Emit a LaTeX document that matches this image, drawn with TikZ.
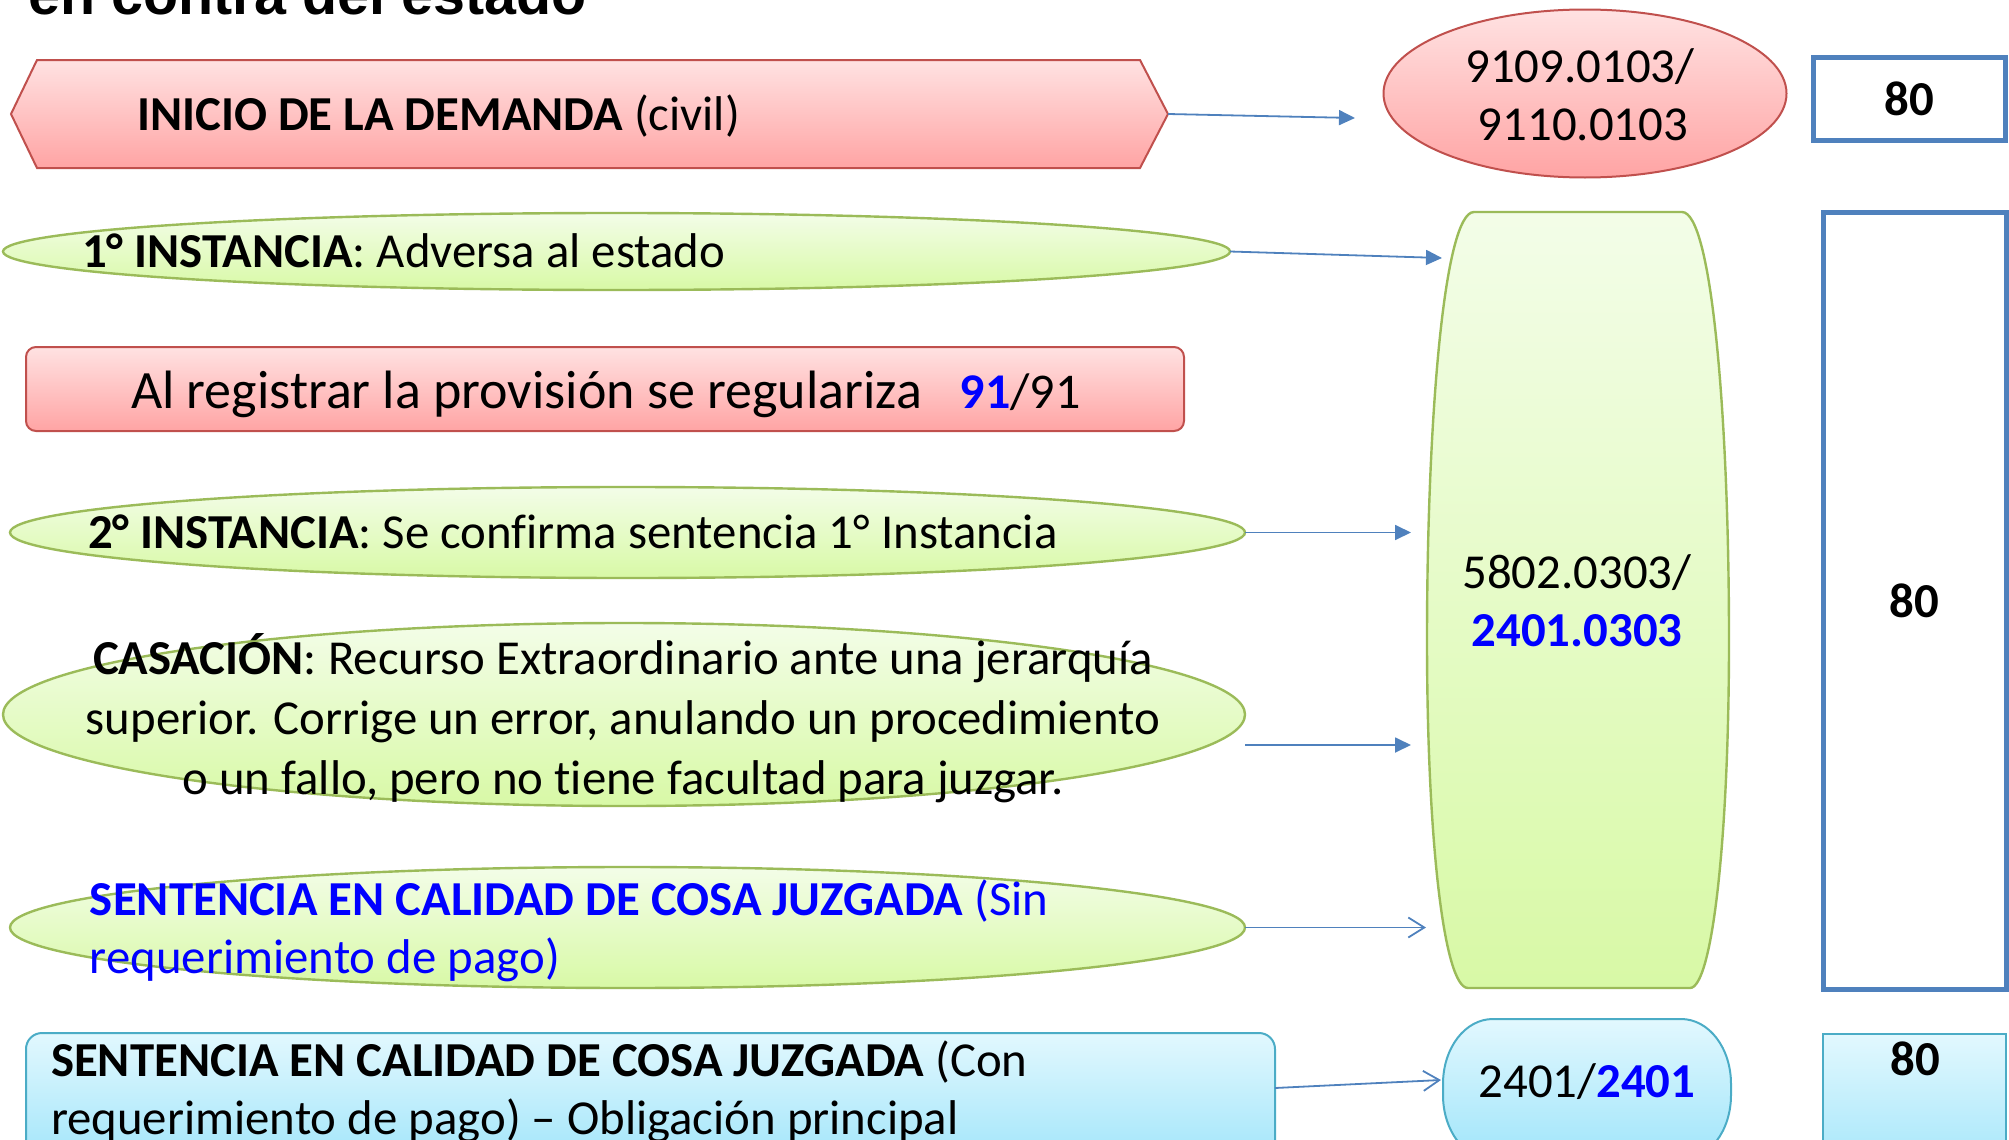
\documentclass[tikz,border=0pt]{standalone}
\usepackage{fontspec}
\setmainfont[Ligatures=NoCommon]{Carlito}
\newfontfamily\titlefont{Liberation Sans}
\usetikzlibrary{shapes.geometric,arrows.meta}
\definecolor{redtop}{RGB}{255,226,226}
\definecolor{redbot}{RGB}{255,164,164}
\definecolor{redline}{RGB}{192,80,77}
\definecolor{grntop}{RGB}{243,253,232}
\definecolor{grnbot}{RGB}{216,249,166}
\definecolor{grnline}{RGB}{155,187,89}
\definecolor{blutop}{RGB}{226,248,254}
\definecolor{blubot}{RGB}{160,229,250}
\definecolor{bluline}{RGB}{75,172,198}
\definecolor{arrblue}{RGB}{79,129,189}
\definecolor{txtblue}{RGB}{0,0,255}
\begin{document}
\begin{tikzpicture}[x=0.5pt,y=-0.5pt,
  redfill/.style={top color=redtop,bottom color=redbot,draw=redline,line width=1pt},
  grnfill/.style={top color=grntop,bottom color=grnbot,draw=grnline,line width=1.2pt},
  blufill/.style={top color=blutop,bottom color=blubot,draw=bluline,line width=1pt},
  txt/.style={inner sep=0pt,outer sep=0pt,font=\fontsize{24.4}{28}\selectfont},
  gell/.style={ellipse,grnfill,inner sep=0pt,outer sep=0pt},
  numbox/.style={draw=arrblue,line width=2.5pt,fill=white,inner sep=0pt,outer sep=0pt,font=\fontsize{24.4}{28}\selectfont\bfseries},
  arrf/.style={draw=arrblue,line width=0.9pt,-{Triangle[length=8pt,width=7.5pt]}},
  arro/.style={draw=arrblue,line width=0.9pt,-{Straight Barb[length=8pt,width=10pt]}},
]
\useasboundingbox (0,0) rectangle (2009,1140);

% title
\node[inner sep=0pt,anchor=base west,font=\titlefont\fontsize{28.7}{30}\selectfont\bfseries] (title) at (28,15) {en contra del estado};

% hexagon
\shade[redfill] (11,114) -- (37,60) -- (1140,60) -- (1168,114) -- (1140,168) -- (37,168) -- cycle;
\coordinate (hexR) at (1168,114);
\node[txt,anchor=base west] (hexT) at (137,130) {\textbf{INICIO DE LA DEMANDA} (civil)};

% codes ellipse
\node[ellipse,redfill,inner sep=0pt,outer sep=0pt,minimum width=201.5pt,minimum height=84pt] (codeA) at (1585,93.5) {};
\node[txt,anchor=base] (codeA1) at (1580,82) {9109.0103/};
\node[txt,anchor=base] (codeA2) at (1583,140.5) {9110.0103};
\coordinate (codeAin) at (1355,118);
\draw[arrf] (hexR) -- (codeAin);

% top 80
\node[numbox,minimum width=96pt,minimum height=41.5pt] (n80a) at (1909,98.5) {80};

% tall green shape
\shade[grnfill] (1474,212) -- (1682,212) .. controls (1712,212) and (1729,420) .. (1729,640) .. controls (1729,840) and (1712,988) .. (1690,988) -- (1468,988) .. controls (1444,988) and (1427,840) .. (1427,640) .. controls (1427,420) and (1444,212) .. (1474,212) -- cycle;
\node[txt,anchor=base] (acc1) at (1577,588) {5802.0303/};
\node[txt,anchor=base] (acc2) at (1577,646) {\textcolor{txtblue}{\textbf{2401.0303}}};

% tall 80
\node[numbox,minimum width=91.5pt,minimum height=388.5pt] (n80b) at (1914.5,600.5) {80};

% 1 instancia
\node[gell,minimum width=613.5pt,minimum height=38.5pt] (g1) at (616.5,251.5) {};
\node[txt,anchor=base west] (g1t) at (82,267) {\textbf{1° INSTANCIA}: Adversa al estado};
\coordinate (g1in) at (1442,258);
\draw[arrf] (g1.east) -- (g1in);

% provision
\node[redfill,rounded corners=5pt,minimum width=579pt,minimum height=42pt,inner sep=0pt,outer sep=0pt] (prov) at (605,389) {};
\node[txt,anchor=base west,font=\fontsize{27}{32}\selectfont] (provT) at (131,408) {Al registrar la provisión se regulariza\hspace{19pt}{\fontsize{25}{30}\selectfont\textcolor{txtblue}{\textbf{91}}/91}};

% 2 instancia
\node[gell,minimum width=617.5pt,minimum height=45.5pt] (g2) at (627.5,532.5) {};
\node[txt,anchor=base west] (g2t) at (88,548) {\textbf{2° INSTANCIA}: Se confirma sentencia 1° Instancia};
\coordinate (g2in) at (1411,532.5);
\draw[arrf] (g2.east) -- (g2in);

% casacion
\node[gell,minimum width=621pt,minimum height=91.5pt] (g3) at (624,714.5) {};
\node[txt,anchor=base] (g3a) at (623,674) {\textbf{CASACIÓN}: Recurso Extraordinario ante una jerarquía};
\node[txt,anchor=base] (g3b) at (623,734) {superior. Corrige un error, anulando un procedimiento};
\node[txt,anchor=base] (g3c) at (623,794) {o un fallo, pero no tiene facultad para juzgar.};
\coordinate (g3in) at (1411,745);
\draw[arrf] (g3.east |- g3in) -- (g3in);

% sentencia sin requerimiento
\node[gell,minimum width=617.5pt,minimum height=60.5pt] (g4) at (627.5,927.5) {};
\node[txt,anchor=base west] (g4a) at (90,915) {\textcolor{txtblue}{\textbf{SENTENCIA EN CALIDAD DE COSA JUZGADA} (Sin}};
\node[txt,anchor=base west] (g4b) at (90,973) {\textcolor{txtblue}{requerimiento de pago)}};
\coordinate (g4in) at (1426,927.5);
\draw[arro] (g4.east) -- (g4in);

% sentencia con requerimiento
\node[blufill,rounded corners=8pt,minimum width=624.5pt,minimum height=66pt,inner sep=0pt,outer sep=0pt] (sjc) at (650.5,1099) {};
\node[txt,anchor=base west] (sjca) at (51,1076) {\textbf{SENTENCIA EN CALIDAD DE COSA JUZGADA} (Con};
\node[txt,anchor=base west] (sjcb) at (51,1134) {requerimiento de pago) – Obligación principal};

% pill 2401
\shade[blufill] (1443,1084) .. controls (1443,1048) and (1465,1019) .. (1493,1019) -- (1681,1019) .. controls (1709,1019) and (1731,1048) .. (1731,1084) -- (1731,1095) .. controls (1731,1131) and (1709,1160) .. (1681,1160) -- (1493,1160) .. controls (1465,1160) and (1443,1131) .. (1443,1095) -- cycle;
\node[txt,anchor=base] (pillT) at (1587,1097) {2401/\textcolor{txtblue}{\textbf{2401}}};
\coordinate (sjcout) at (1275,1088);
\coordinate (pillin) at (1441,1080);
\draw[arro] (sjc.east |- sjcout) -- (pillin);

% bottom 80
\node[blufill,minimum width=91.5pt,minimum height=73pt,inner sep=0pt,outer sep=0pt] (n80c) at (1914.5,1107) {};
\node[txt,anchor=base,font=\fontsize{24.4}{28}\selectfont\bfseries] (n80cT) at (1915,1075) {80};
\end{tikzpicture}
\end{document}
